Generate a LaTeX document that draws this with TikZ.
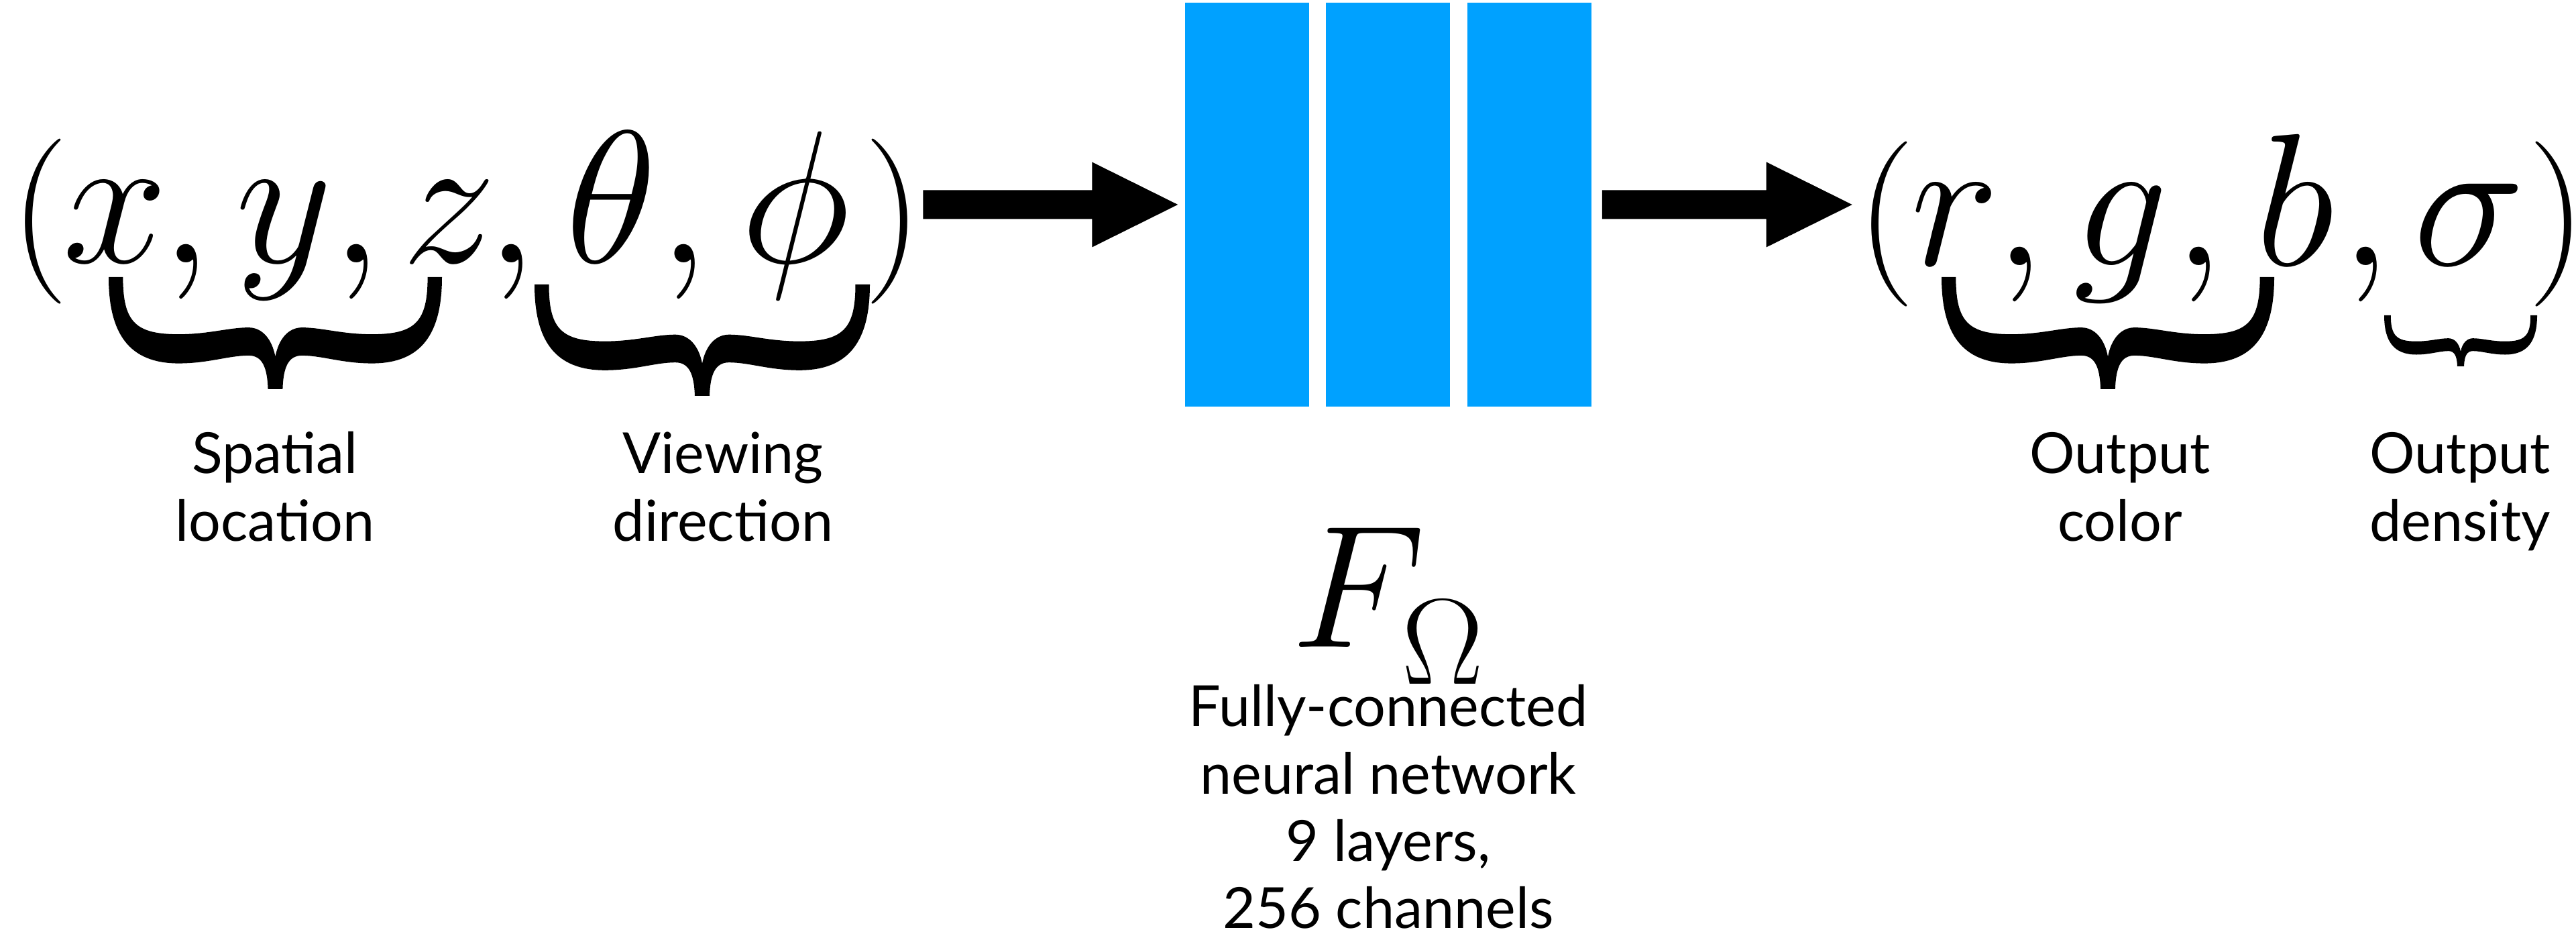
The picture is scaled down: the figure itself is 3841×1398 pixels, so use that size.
\RequirePackage{fix-cm}
\documentclass[tikz,border=0pt]{standalone}
\usepackage[no-math]{fontspec}
\setmainfont{Lato}
\usetikzlibrary{calc}
\definecolor{layerblue}{RGB}{0,161,255}
\newcommand\labellines[1]{\begin{tabular}[t]{@{}c@{}}#1\end{tabular}}
\tikzset{
  layerbox/.style={fill=layerblue, draw=none, inner sep=0pt,
    minimum width=1.85cm, minimum height=6.02cm},
  paren/.style={inner sep=0pt, anchor=base, font=\fontsize{70}{80}\selectfont},
  sym/.style={inner sep=0pt, anchor=base, font=\fontsize{80}{90}\selectfont},
  lbl/.style={inner sep=0pt, anchor=base, font=\fontsize{24}{28.45}\selectfont},
  % thick block arrow: shaft 43 units, head 127 wide and 128 long
  fatarrow/.style={to path={
    ($(\tikztostart)+(0,-21.5)$) -- ($(\tikztotarget)+(-128,-21.5)$)
    -- ($(\tikztotarget)+(-128,-63.5)$) -- (\tikztotarget)
    -- ($(\tikztotarget)+(-128,63.5)$) -- ($(\tikztotarget)+(-128,21.5)$)
    -- ($(\tikztostart)+(0,21.5)$) -- cycle}},
  % filled curly underbrace in a unit box (u to the right, v downward)
  ubrace/.style={insert path={
    (0,0) .. controls (0,0.5) and (0.06,0.77) .. (0.21,0.77)
      .. controls (0.3,0.77) and (0.36,0.70) .. (0.42,0.70)
      .. controls (0.46,0.70) and (0.476,0.8) .. (0.478,1)
      -- (0.522,1)
      .. controls (0.524,0.8) and (0.54,0.70) .. (0.58,0.70)
      .. controls (0.64,0.70) and (0.7,0.77) .. (0.79,0.77)
      .. controls (0.94,0.77) and (1,0.5) .. (1,0)
      -- (0.957,0)
      .. controls (0.957,0.4) and (0.92,0.51) .. (0.79,0.51)
      .. controls (0.7,0.51) and (0.64,0.45) .. (0.58,0.45)
      .. controls (0.54,0.45) and (0.51,0.55) .. (0.5,0.71)
      .. controls (0.49,0.55) and (0.46,0.45) .. (0.42,0.45)
      .. controls (0.36,0.45) and (0.3,0.51) .. (0.21,0.51)
      .. controls (0.08,0.51) and (0.043,0.4) .. (0.043,0)
      -- cycle}}
}
\begin{document}
\begin{tikzpicture}[x=0.01cm, y=-0.01cm]
\useasboundingbox (0,0) rectangle (3841,1398);

% input tuple (x, y, z, theta, phi)
\node[paren] (inL) at (59,392)   {$($};
\node[sym]   (inX) at (172,392)  {$x$};
\node[sym]   (inC1) at (278,392) {$,$};
\node[sym]   (inY) at (424,392)  {$y$};
\node[sym]   (inC2) at (532,392) {$,$};
\node[sym]   (inZ) at (670,392)  {$z$};
\node[sym]   (inC3) at (763,392) {$,$};
\node[sym]   (inT) at (912,392)  {$\theta$};
\node[sym]   (inC4) at (1020,392) {$,$};
\node[sym]   (inP) at (1186,392) {$\phi$};
\node[paren] (inR) at (1332,392) {$)$};

% output tuple (r, g, b, sigma)
\node[paren] (outL) at (2812,396)  {$($};
\node[sym]   (outR) at (2915,396)  {$r$};
\node[sym]   (outC1) at (3012,396) {$,$};
\node[sym]   (outG) at (3162,396)  {$g$};
\node[sym]   (outC2) at (3279,396) {$,$};
\node[sym]   (outB) at (3422,396)  {$b$};
\node[sym]   (outC3) at (3528,396) {$,$};
\node[sym]   (outS) at (3682,396)  {$\sigma$};
\node[paren] (outRp) at (3813,396) {$)$};

% the network layers
\node[layerbox] (l1) at (1859.5,305) {};
\node[layerbox] (l2) at (2069.5,305) {};
\node[layerbox] (l3) at (2280.5,305) {};

% arrows in and out of the network
\coordinate (a1s) at (inR.east |- l1.west);
\coordinate (a1t) at ($(l1.west)+(-10,0)$);
\coordinate (a2s) at ($(l3.east)+(15,0)$);
\coordinate (a2t) at ($(outL.west |- l3.east)+(-6,0)$);
\fill (a1s) to[fatarrow] (a1t);
\fill (a2s) to[fatarrow] (a2t);

% braces under the tuple components
\fill[shift={(162,413)}, xscale=497, yscale=167, ubrace];
\fill[shift={(797,424)}, xscale=500, yscale=166, ubrace];
\fill[shift={(2895,413)}, xscale=496, yscale=167, ubrace];
\fill[shift={(3555,470)}, xscale=228, yscale=76, ubrace];

% captions
\node[lbl] (lspatial) at (410,706) {\labellines{Spatial\\location}};
\node[lbl] (lview) at (1078,706) {\labellines{Viewing\\direction}};
\node[lbl] (lcolor) at (3161,706) {\labellines{Output\\color}};
\node[lbl] (ldens) at (3668,706) {\labellines{Output\\density}};

\node[inner sep=0pt, anchor=base, font=\fontsize{74}{88}\selectfont] (fom) at (2070,965)
  {$F_{\raisebox{-4.5pt}{$\scriptstyle\Omega$}}$};
\node[lbl] (ldesc) at (2070,1083)
  {\labellines{Fully-connected\\neural network\\9 layers,\\256 channels}};
\end{tikzpicture}
\end{document}
